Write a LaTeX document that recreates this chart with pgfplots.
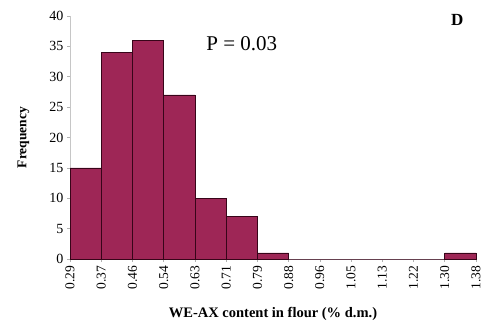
\documentclass[border=0pt]{standalone}
\usepackage{pgfplots}
\pgfplotsset{compat=1.18}
\usepackage{fontspec}
\setmainfont{Liberation Serif}
\definecolor{barfill}{RGB}{158,38,86}
\definecolor{baredge}{RGB}{55,5,25}
\begin{document}
\begin{tikzpicture}[x=1pt,y=1pt]
\path[use as bounding box] (0,0) rectangle (485,327);
\begin{axis}[
  at={(70pt,68pt)}, anchor=origin,
  scale only axis, width=406pt, height=243pt,
  xmin=0, xmax=13, ymin=0, ymax=40,
  axis lines*=left,
  axis line style={draw=gray!45},
  xtick={0,...,13},
  xticklabels={0.29,0.37,0.46,0.54,0.63,0.71,0.79,0.88,0.96,1.05,1.13,1.22,1.30,1.38},
  x tick label style={rotate=90, anchor=east, font=\fontsize{13.5}{14}\selectfont},
  ytick={0,5,...,40},
  y tick label style={font=\fontsize{14}{15}\selectfont},
  /pgf/number format/assume math mode=true,
  tick align=outside, tick style={draw=gray!60, line width=0.6pt},
  major tick length=3pt,
  ylabel={\bfseries Frequency},
  ylabel style={font=\fontsize{13.5}{15}\selectfont, at={(axis description cs:-0.115,0.5)}, anchor=center},
  xlabel={\bfseries WE-AX content in flour (\% d.m.)},
  xlabel style={font=\fontsize{14.5}{16}\selectfont, at={(axis description cs:0.5,-0.225)}, anchor=center},
  clip=false,
]
\addplot[ybar interval, fill=barfill, draw=baredge, line width=0.7pt] coordinates {
 (0,15) (1,34) (2,36) (3,27) (4,10) (5,7) (6,1) (7,0) (8,0) (9,0) (10,0) (11,0) (12,1) (13,1)
};
\node[font=\fontsize{21}{23}\selectfont] at (axis cs:5.5,35.4) {P = 0.03};
\node[font=\fontsize{17}{19}\selectfont\bfseries] at (axis cs:12.4,39.4) {D};
\end{axis}
\end{tikzpicture}
\end{document}
